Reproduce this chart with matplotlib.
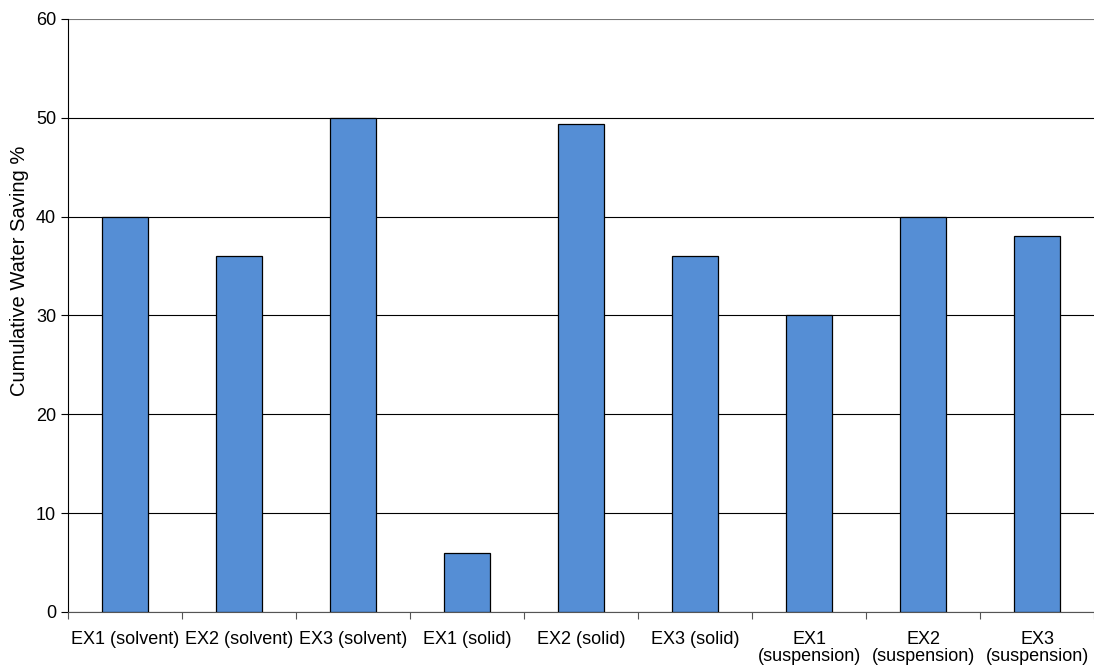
import numpy as np
import matplotlib.pyplot as plt

plt.rcParams['font.family'] = ['Liberation Sans', 'DejaVu Sans']

labels = ['EX1 (solvent)', 'EX2 (solvent)', 'EX3 (solvent)',
          'EX1 (solid)', 'EX2 (solid)', 'EX3 (solid)',
          'EX1\n(suspension)', 'EX2\n(suspension)', 'EX3\n(suspension)']
saving = [40, 36, 50, 6, 49.4, 36, 30, 40, 38]

fig = plt.figure(figsize=(10.94, 6.66), dpi=100)
ax = fig.add_axes([0.0622, 0.0811, 0.9378, 0.8904])

x = np.arange(len(labels))
ax.bar(x, saving, width=0.4, color='#558ed5', edgecolor='black',
       linewidth=0.9, zorder=3)

ax.set_xlim(-0.5, len(labels) - 0.5)
ax.set_ylim(0, 60)
ax.set_yticks(np.arange(0, 61, 10))
ax.yaxis.grid(True, color='black', linewidth=0.8, zorder=0)
ax.yaxis.get_gridlines()[-1].set_color('#777777')

# category separators as major ticks, names as minor ticks
ax.set_xticks(np.arange(-0.5, len(labels), 1.0))
ax.set_xticklabels([])
ax.set_xticks(x, minor=True)
ax.set_xticklabels(labels, minor=True, fontsize=13, linespacing=1.0)
ax.tick_params(axis='x', which='minor', length=0, pad=14)
ax.tick_params(axis='x', which='major', length=5, direction='out', color='#555555')
ax.tick_params(axis='y', length=5, direction='out', labelsize=13)

ax.spines['top'].set_visible(False)
ax.spines['right'].set_visible(False)
ax.spines['bottom'].set_color('#555555')
ax.spines['left'].set_color('black')

ax.set_ylabel('Cumulative Water Saving %', fontsize=14.5)
ax.yaxis.set_label_coords(-0.038, 0.575)

fig.savefig('out.png', dpi=100)
